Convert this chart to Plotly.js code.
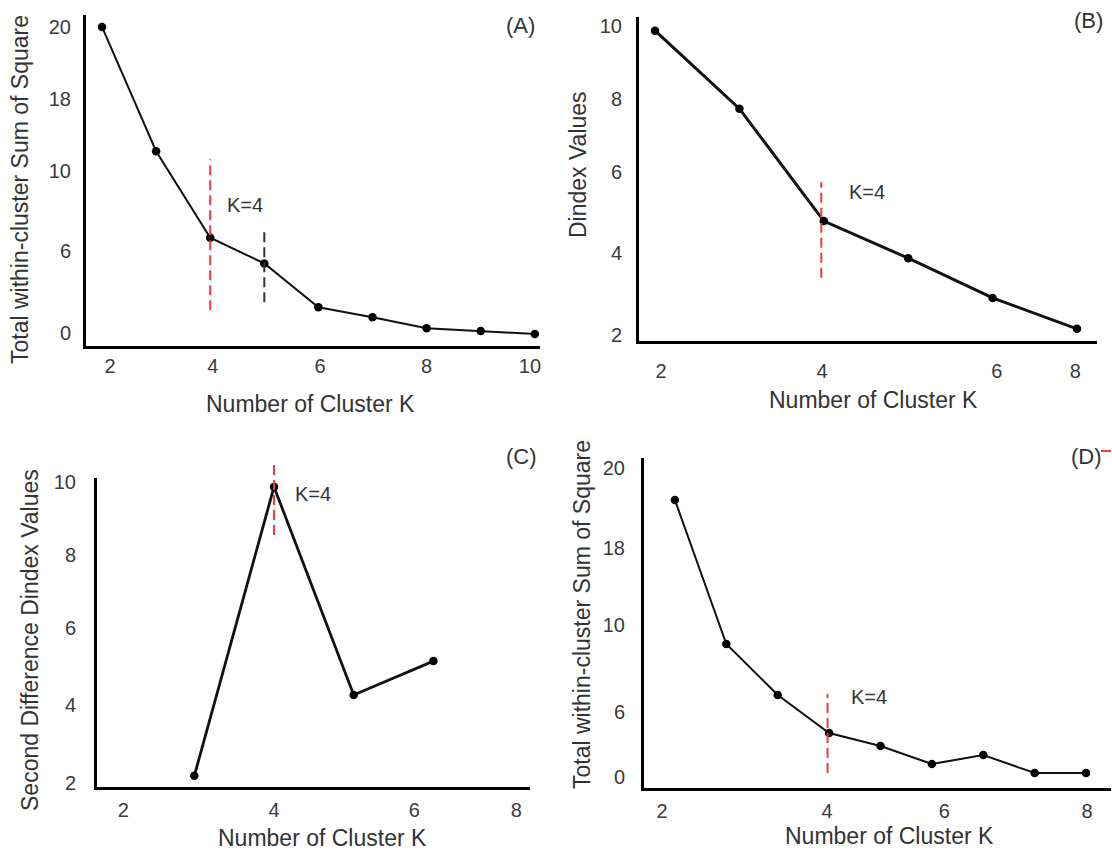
<!DOCTYPE html>
<html><head><meta charset="utf-8">
<script src="https://cdn.plot.ly/plotly-3.0.1.min.js"></script>
<style>html,body{margin:0;padding:0;background:#fff;}#chart{width:1112px;height:850px;}</style>
</head><body><div id="chart"></div>
<script>
// ---- Data (axis units) ----
const kA = [2,3,4,5,6,7,8,9,10];
const wssA = [20, 11.88, 6.23, 4.55, 1.69, 1.04, 0.32, 0.13, -0.06];
const xTickPosA = [2.15, 4.05, 6.03, 8.0, 9.91];
const xTickTextA = ['2','4','6','8','10'];
const yTickPosA = [0, 5.39, 10.58, 15.32, 20];
const yTickTextA = ['0','6','10','18','20'];

const kB = [2,3,4,5,6,7];
const dindexB = [9.88, 7.86, 4.95, 3.99, 2.96, 2.16];
const xTickPosB = [2.07, 3.98, 6.05, 6.98];
const xTickTextB = ['2','4','6','8'];
const yTickPosB = [2, 4.12, 6.22, 8.11, 10];
const yTickTextB = ['2','4','6','8','10'];

const kC = [3,4,5,6];
const secondDiffC = [2.19, 9.87, 4.34, 5.24];
const xTickPosC = [2.11, 4, 5.76, 7.04];
const xTickTextC = ['2','4','6','8'];
const yTickPosC = [2, 4.07, 6.12, 8.06, 10];
const yTickTextC = ['2','4','6','8','10'];

const kD = [1,2,3,4,5,6,7,8,9];
const wssD = [17.93, 8.61, 5.31, 2.85, 2.01, 0.84, 1.42, 0.26, 0.26];
const xTickPosD = [0.75, 3.96, 6.24, 9.02];
const xTickTextD = ['2','4','6','8'];
const yTickPosD = [0, 4.21, 9.84, 14.82, 20];
const yTickTextD = ['0','6','10','18','20'];

// marker lines (x, [y0,y1])
const redA = {x:[4,4], y:[1.49, 11.36]};
const blackA = {x:[5,5], y:[2.01, 6.69]};
const redB = {x:[3.97,3.97], y:[3.48, 5.96]};
const redC = {x:[4,4], y:[8.59, 10.45]};
const redD = {x:[3.97,3.97], y:[0.26, 5.37]};

// ---- helpers for paper placement of text ----
const W = 1112, H = 850;
const px = v => v / W;
const py = v => 1 - v / H;

const FAM = 'Liberation Sans, Arial, sans-serif';
const markerStyle = {color:'#000', size:8.5};
function series(x, y, xa, ya, w) {
  return {x:x, y:y, xaxis:xa, yaxis:ya, mode:'lines+markers', type:'scatter',
    line:{color:'#111', width:w}, marker:markerStyle, hoverinfo:'skip', showlegend:false};
}
function dashed(obj, xa, ya, color) {
  return {x:obj.x, y:obj.y, xaxis:xa, yaxis:ya, mode:'lines', type:'scatter',
    line:{color:color, width:2, dash:'10px,5px'}, hoverinfo:'skip', showlegend:false};
}

const data = [
  series(kA, wssA, 'x', 'y', 2),
  dashed(redA, 'x', 'y', '#ef3b3b'),
  dashed(blackA, 'x', 'y', '#333'),
  series(kB, dindexB, 'x2', 'y2', 3),
  dashed(redB, 'x2', 'y2', '#ef3b3b'),
  series(kC, secondDiffC, 'x3', 'y3', 2.8),
  dashed(redC, 'x3', 'y5', '#ef3b3b'),
  series(kD, wssD, 'x4', 'y4', 2),
  dashed(redD, 'x4', 'y4', '#ef3b3b')
];

const tickFont = {family:FAM, size:20, color:'#3a3a3a'};
function xax(domain, range, tv, tt, anchor, so) {
  return {domain:domain, range:range, tickvals:tv, ticktext:tt, anchor:anchor,
    showgrid:false, zeroline:false, showline:true, linecolor:'#000', linewidth:3,
    ticks:'', ticklabelstandoff:so, tickfont:tickFont, fixedrange:true};
}
function yax(domain, range, tv, tt, anchor, so) {
  return {domain:domain, range:range, tickvals:tv, ticktext:tt, anchor:anchor,
    showgrid:false, zeroline:false, showline:true, linecolor:'#000', linewidth:3,
    ticks:'', ticklabelstandoff:so, tickfont:tickFont, fixedrange:true};
}

const titleFont = {family:FAM, size:23, color:'#333'};
const labelFont = {family:FAM, size:22, color:'#333'};
const kFont = {family:FAM, size:20, color:'#333'};
function ann(text, x, y, font, rot) {
  return {text:text, x:px(x), y:py(y), xref:'paper', yref:'paper', showarrow:false,
    font:font, textangle:rot||0, xanchor:'center', yanchor:'middle'};
}

const layout = {
  width:W, height:H, margin:{l:0,r:0,t:0,b:0},
  paper_bgcolor:'#fff', plot_bgcolor:'rgba(0,0,0,0)', showlegend:false,
  xaxis: xax([px(86), px(540)], [1.704, 10.096], xTickPosA, xTickTextA, 'y', 0),
  yaxis: yax([py(346), py(15)], [-0.844, 20.779], yTickPosA, yTickTextA, 'x', 8),
  xaxis2: xax([px(639), px(1097)], [1.81, 7.237], xTickPosB, xTickTextB, 'y2', 10),
  yaxis2: yax([py(341), py(17)], [1.845, 10.233], yTickPosB, yTickTextB, 'x2', 10),
  xaxis3: xax([px(97), px(530)], [1.779, 7.212], xTickPosC, xTickTextC, 'y3', 3),
  yaxis3: yax([py(787), py(478)], [1.894, 10.106], yTickPosC, yTickTextC, 'x3', 14),
  xaxis4: xax([px(644), px(1111)], [0.398, 9.485], xTickPosD, xTickTextD, 'y4', 3),
  yaxis4: yax([py(788), py(458)], [-0.712, 20.65], yTickPosD, yTickTextD, 'x4', 12),
  yaxis5: {domain:[py(787), py(463.2)], range:[1.894, 10.5], anchor:'x3', visible:false, fixedrange:true},
  annotations: [
    ann('Total within-cluster Sum of Square', 20, 190, titleFont, -90),
    ann('Number of Cluster K', 310, 404, titleFont),
    ann('Dindex Values', 578, 165, titleFont, -90),
    ann('Number of Cluster K', 873, 400, titleFont),
    ann('Second Difference Dindex Values', 30, 640, titleFont, -90),
    ann('Number of Cluster K', 322, 838, titleFont),
    ann('Total within-cluster Sum of Square', 582, 615, titleFont, -90),
    ann('Number of Cluster K', 889, 836, titleFont),
    ann('(A)', 520, 25, labelFont),
    ann('(B)', 1088, 20, labelFont),
    ann('(C)', 521, 457, labelFont),
    ann('(D)', 1086, 456, labelFont),
    ann('K=4', 245, 205, kFont),
    ann('K=4', 867, 192, kFont),
    ann('K=4', 313, 494, kFont),
    ann('K=4', 869, 697, kFont)
  ],
  shapes: [
    {type:'line', xref:'paper', yref:'paper', x0:px(1101), x1:px(1111), y0:py(451), y1:py(451),
     line:{color:'#ef3b3b', width:2}}
  ]
};

Plotly.newPlot('chart', data, layout, {staticPlot:true, displayModeBar:false});
</script></body></html>
